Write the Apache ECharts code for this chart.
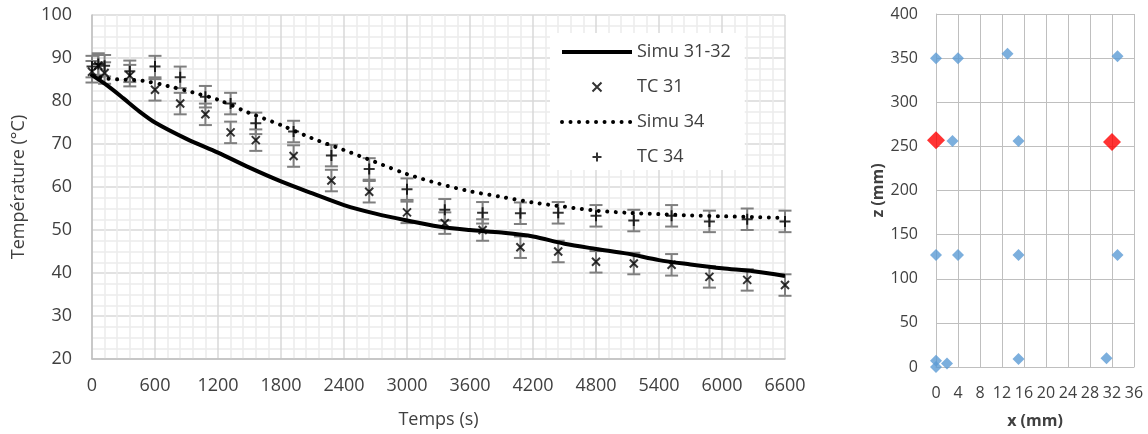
<!DOCTYPE html>
<html><head><meta charset="utf-8">
<script src="https://cdn.jsdelivr.net/npm/echarts@6/dist/echarts.min.js"></script>
<style>html,body{margin:0;padding:0;background:#fff}#c{width:1148px;height:434px}</style>
</head><body><div id="c"></div>
<script>
// ---- Left chart data ----
const simu3132Time = [0,150,300,450,600,900,1200,1500,1800,2100,2400,2700,3000,3300,3600,3900,4200,4500,4800,5100,5400,5700,6000,6300,6600];
const simu3132Temp = [86,83.5,80.6,77.6,75,71.2,68,64.5,61.3,58.5,55.8,53.8,52.2,50.8,50.0,49.4,48.5,46.8,45.6,44.5,43.0,42.0,41.1,40.4,39.3];
const simu34Time = [0,150,480,720,960,1200,1500,1800,2100,2400,2700,3000,3300,3600,3900,4200,4500,4800,5100,5400,5700,6000,6300,6600];
const simu34Temp = [86,85.2,84.7,83.5,82,80.3,77.2,74.4,71.3,68.6,65.8,63,60.8,59,57.7,56.4,55.4,54.5,54,53.7,53.4,53.2,53.0,52.8];
const tcTime = [0,60,120,360,600,840,1080,1320,1560,1920,2280,2640,3000,3360,3720,4080,4440,4800,5160,5520,5880,6240,6600];
const tc31Temp = [86.8,88.2,86.5,85.9,82.6,79.4,76.9,72.7,70.9,67.2,61.5,58.9,54.1,51.6,50,46,45,42.6,42.2,41.9,39.1,38.4,37.2];
const tc34Temp = [88,88.6,88.2,86.9,88,85.5,81,79.4,74.8,72.9,67.3,64.2,59.5,54.7,54,53.9,54,53.3,52.2,53.3,52,52.5,52];
const tcError = 2.5;
const seriesNames = ['Simu 31-32','TC 31','Simu 34','TC 34'];
// ---- Right chart data ----
const sensorX = [0,4,13,33, 3,15, 0,4,15,33, 0,0,2,15,31];
const sensorZ = [350,350,355,352, 256,256, 127,127,127,127, 7,0,4,9,10];
const selectedX = [0,32];
const selectedZ = [257,255];

const FONT = '"Open Sans", sans-serif';
const TXT = '#404040';
const crossPath = 'path://M0,0L10,10M10,0L0,10';
const plusPath = 'path://M5,0L5,10M0,5L10,5';

function pairs(xs, ys){ return xs.map((x,i)=>[x, ys[i]]); }
function errData(ts, vs){ return ts.map((t,i)=>[t, vs[i]-tcError, vs[i]+tcError]); }
function errRender(params, api){
  const lo = api.coord([api.value(0), api.value(1)]);
  const hi = api.coord([api.value(0), api.value(2)]);
  const w = 6.5;
  const st = {stroke:'#7f7f7f', lineWidth:2};
  return {type:'group', children:[
    {type:'line', shape:{x1:lo[0],y1:lo[1],x2:hi[0],y2:hi[1]}, style:st},
    {type:'line', shape:{x1:lo[0]-w,y1:lo[1],x2:lo[0]+w,y2:lo[1]}, style:st},
    {type:'line', shape:{x1:hi[0]-w,y1:hi[1],x2:hi[0]+w,y2:hi[1]}, style:st}
  ]};
}
const plain = v => String(v);

const chart = echarts.init(document.getElementById('c'), null, {renderer:'canvas'});
chart.setOption({
  animation:false,
  backgroundColor:'#fff',
  textStyle:{fontFamily:FONT},
  grid:[
    {left:92, top:15, width:693, height:344},
    {left:936, top:14, width:198, height:360}
  ],
  legend:{
    orient:'vertical', left:550, top:33,
    itemWidth:70, itemHeight:9, itemGap:15,
    padding:[9,14,3,10], backgroundColor:'#fff',
    selectedMode:false, symbolKeepAspect:true,
    lineStyle:{width:4},
    textStyle:{fontSize:18, color:TXT, lineHeight:20, fontFamily:FONT},
    data:seriesNames
  },
  xAxis:[
    {gridIndex:0, type:'value', min:0, max:6600, interval:600,
     name:'Temps (s)', nameLocation:'middle', nameGap:52,
     nameTextStyle:{fontSize:18, color:TXT, fontFamily:FONT},
     axisLine:{show:true, onZero:false, lineStyle:{color:'#bfbfbf', width:1.5}},
     axisTick:{show:false},
     axisLabel:{fontSize:18, color:TXT, margin:18, fontFamily:FONT, formatter:plain},
     splitLine:{show:true, lineStyle:{color:'#d9d9d9', width:1.5}},
     minorTick:{show:false, splitNumber:5},
     minorSplitLine:{show:true, lineStyle:{color:'#ececec', width:1.5}}},
    {gridIndex:1, type:'value', min:0, max:36, interval:4,
     name:'x (mm)', nameLocation:'middle', nameGap:46,
     nameTextStyle:{fontSize:16, fontWeight:'bold', color:TXT, fontFamily:FONT},
     axisLine:{show:true, onZero:false, lineStyle:{color:'#bfbfbf'}},
     axisTick:{show:false},
     axisLabel:{fontSize:16, color:TXT, margin:18, hideOverlap:false, fontFamily:FONT},
     splitLine:{show:true, lineStyle:{color:'#bfbfbf'}}}
  ],
  yAxis:[
    {gridIndex:0, type:'value', min:20, max:100, interval:10,
     name:'Température (°C)', nameLocation:'middle', nameGap:64,
     nameTextStyle:{fontSize:18, color:TXT, fontFamily:FONT},
     axisLine:{show:true, onZero:false, lineStyle:{color:'#bfbfbf', width:1.5}},
     axisTick:{show:false},
     axisLabel:{fontSize:18, color:TXT, margin:20, fontFamily:FONT},
     splitLine:{show:true, lineStyle:{color:'#d9d9d9', width:1.5}},
     minorTick:{show:false, splitNumber:4},
     minorSplitLine:{show:true, lineStyle:{color:'#ececec', width:1.5}}},
    {gridIndex:1, type:'value', min:0, max:400, interval:50,
     name:'z (mm)', nameLocation:'middle', nameGap:43,
     nameTextStyle:{fontSize:16, fontWeight:'bold', color:TXT, fontFamily:FONT},
     axisLine:{show:true, onZero:false, lineStyle:{color:'#bfbfbf'}},
     axisTick:{show:false},
     axisLabel:{fontSize:16, color:TXT, margin:18, fontFamily:FONT},
     splitLine:{show:true, lineStyle:{color:'#bfbfbf'}}}
  ],
  series:[
    {type:'custom', name:'err31', xAxisIndex:0, yAxisIndex:0, silent:true, z:2,
     data:errData(tcTime, tc31Temp), renderItem:errRender, encode:{x:0, y:[1,2]}},
    {type:'custom', name:'err34', xAxisIndex:0, yAxisIndex:0, silent:true, z:2,
     data:errData(tcTime, tc34Temp), renderItem:errRender, encode:{x:0, y:[1,2]}},
    {type:'line', name:'Simu 31-32', xAxisIndex:0, yAxisIndex:0, z:3,
     data:pairs(simu3132Time, simu3132Temp), smooth:0.3, symbol:'none',
     itemStyle:{color:'transparent'},
     lineStyle:{color:'#000', width:4}},
    {type:'scatter', name:'TC 31', xAxisIndex:0, yAxisIndex:0, z:4,
     data:pairs(tcTime, tc31Temp), symbol:crossPath, symbolSize:8,
     itemStyle:{color:'transparent', borderColor:'#000', borderWidth:2}},
    {type:'line', name:'Simu 34', xAxisIndex:0, yAxisIndex:0, z:3,
     data:pairs(simu34Time, simu34Temp), smooth:0.3, symbol:'none',
     itemStyle:{color:'transparent'},
     lineStyle:{color:'#000', width:4, type:[0.01, 8.5], cap:'round'}},
    {type:'scatter', name:'TC 34', xAxisIndex:0, yAxisIndex:0, z:4,
     data:pairs(tcTime, tc34Temp), symbol:plusPath, symbolSize:11,
     itemStyle:{color:'transparent', borderColor:'#000', borderWidth:2}},
    {type:'scatter', name:'sensors', xAxisIndex:1, yAxisIndex:1, z:3,
     data:pairs(sensorX, sensorZ), symbol:'diamond', symbolSize:12,
     itemStyle:{color:'#5b9bd5'}},
    {type:'scatter', name:'selected', xAxisIndex:1, yAxisIndex:1, z:4,
     data:pairs(selectedX, selectedZ), symbol:'diamond', symbolSize:18,
     itemStyle:{color:'#ff0000'}}
  ]
});
</script>
</body></html>
